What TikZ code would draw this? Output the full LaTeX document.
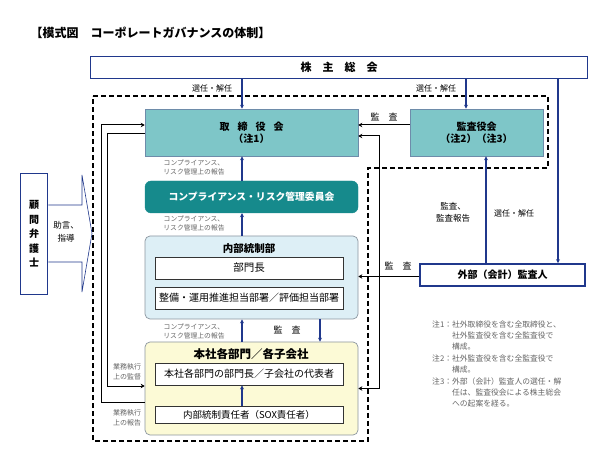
\documentclass[tikz,border=0pt]{standalone}
\usepackage{fontspec}
\setmainfont{Noto Sans CJK JP}
\usetikzlibrary{arrows.meta, positioning}
\definecolor{navy}{RGB}{32,56,140}
\definecolor{tealL}{RGB}{126,198,200}
\definecolor{tealD}{RGB}{22,138,140}
\definecolor{tealline}{RGB}{110,140,170}
\definecolor{blueL}{RGB}{221,239,246}
\definecolor{yellowL}{RGB}{252,250,214}
\definecolor{grayline}{RGB}{140,150,160}
\definecolor{graytext}{RGB}{100,100,100}
\tikzstyle{box} = [rectangle, text centered, align=center, inner sep=0pt]
\tikzstyle{bluebox} = [box, draw=navy, line width=1.6pt, fill=white]
\tikzstyle{tealbox} = [box, draw=tealline, line width=0.6pt, fill=tealL, minimum height=47pt, font=\bfseries\fontsize{10}{12}\selectfont]
\tikzstyle{group} = [box, draw=grayline, line width=0.7pt, rounded corners=5pt, minimum width=213pt]
\tikzstyle{innerbox} = [box, draw=black!80, line width=0.8pt, fill=white, minimum width=188pt]
\tikzstyle{lbl} = [font=\fontsize{8}{10}\selectfont, align=center]
\tikzstyle{smalllbl} = [font=\fontsize{6.8}{9}\selectfont, text=graytext, align=center]
\tikzstyle{arrow} = [line width=1.2pt, navy, -{Stealth[length=4pt,width=4pt]}]
\tikzstyle{bline} = [line width=1pt, black, >={Stealth[length=4pt,width=4.5pt]}]

\begin{document}
\begin{tikzpicture}[x=1pt, y=-1pt]
  \useasboundingbox (0,0) rectangle (616,462);
  % タイトル
  \node (title) [anchor=west, font=\bfseries\fontsize{12}{14}\selectfont] at (27,33) {【模式図　コーポレートガバナンスの体制】};
  % 株主総会
  \node (soukai) [bluebox, minimum width=497pt, minimum height=22pt, font=\bfseries\fontsize{11}{13}\selectfont] at (339,67.5) {株\hspace{11pt}主\hspace{11pt}総\hspace{11pt}会};
  % 監督範囲（点線）
  \draw [dashed, line width=1.3pt, dash pattern=on 5pt off 3pt] (93,96) -- (548,96) -- (548,168) -- (368,168) -- (368,441) -- (93,441) -- cycle;
  % 取締役会・監査役会
  \node (torishimari) [tealbox, minimum width=213pt] at (251.5,132.5) {取\hspace{8pt}締\hspace{8pt}役\hspace{8pt}会\\（注1）};
  \node (kansayaku) [tealbox, minimum width=133pt] at (476.5,132.5) {監査役会\\（注2）（注3）};
  % 委員会
  \node (iinkai) [box, rounded corners=6pt, fill=tealD, draw=tealD, text=white, minimum width=213pt, minimum height=32pt, font=\bfseries\fontsize{9.8}{12}\selectfont] at (251.5,197) {コンプライアンス・リスク管理委員会};
  % 内部統制部
  \node (naibu) [group, fill=blueL, minimum height=83pt] at (251.5,277.5) {};
  \node (naibutitle) [font=\bfseries\fontsize{10.5}{12}\selectfont] at (249,249) {内部統制部};
  \node (bucho) [innerbox, minimum height=22pt, font=\fontsize{10.5}{12}\selectfont] at (249,268) {部門長};
  \node (seibi) [innerbox, minimum height=22pt, font=\fontsize{10}{12}\selectfont] at (249,298) {整備・運用推進担当部署／評価担当部署};
  % 本社各部門／各子会社
  \node (honsha) [group, fill=yellowL, minimum height=93pt] at (251.5,388.5) {};
  \node (honshatitle) [font=\bfseries\fontsize{11.5}{13}\selectfont] at (251,354) {本社各部門／各子会社};
  \node (bumoncho) [innerbox, minimum height=22pt, font=\fontsize{10}{12}\selectfont] at (249,374) {本社各部門の部門長／子会社の代表者};
  \node (sox) [innerbox, minimum height=17pt, font=\fontsize{9.5}{11}\selectfont] at (249,414.5) {内部統制責任者（SOX責任者）};
  % 外部監査人
  \node (gaibu) [bluebox, minimum width=165pt, minimum height=22pt, font=\bfseries\fontsize{10}{12}\selectfont] at (502.5,275) {外部（会計）監査人};
  % 顧問弁護士
  \node (komon) [bluebox, minimum width=27pt, minimum height=121pt, font=\bfseries\fontsize{10}{14.5}\selectfont] at (34,234) {顧\\問\\弁\\護\\士};
  \draw [navy, line width=0.6pt, fill=white] (komon.east |- 0,205) -- (82,205) -- (82,175) -- (92,233.5) -- (82,292) -- (82,262) -- (komon.east |- 0,262);
  \node (jogen) [lbl, font=\fontsize{8.5}{13}\selectfont] at (66,232) {助言、\\指導};
  % 縦線の位置
  \coordinate (xa) at (242,0);
  \coordinate (xk) at (466,0);
  \coordinate (xs) at (558,0);
  \coordinate (xg) at (486,0);
  \coordinate (xm) at (320,0);
  % 青矢印
  \draw [arrow] (soukai.south -| xa) -- (torishimari.north -| xa);
  \draw [arrow] (soukai.south -| xk) -- (kansayaku.north -| xk);
  \draw [arrow] (soukai.south -| xs) -- (gaibu.north -| xs);
  \draw [arrow] (gaibu.north -| xg) -- (kansayaku.south -| xg);
  \draw [arrow] (iinkai.north -| xa) -- (torishimari.south -| xa);
  \draw [arrow] (naibu.north -| xa) -- (iinkai.south -| xa);
  \draw [arrow] (honsha.north -| xa) -- (naibu.south -| xa);
  \draw [arrow] (naibu.south -| xm) -- (honsha.north -| xm);
  \draw [arrow] (sox.north -| xa) -- (bumoncho.south -| xa);
  % 黒矢印
  \draw [bline, ->] ([yshift=7.5pt]kansayaku.west) -- ([yshift=7.5pt]torishimari.east);
  \draw [bline, <->] ([yshift=-3.5pt]torishimari.east) -- ++(21,0) |- (honsha.east);
  \draw [bline, ->] ([yshift=-1.5pt]gaibu.west) -- ([yshift=-1.5pt]gaibu.west -| naibu.east);
  \draw [bline, ->] ([yshift=-13.5pt]honsha.west) -- ++(-43,0) |- ([yshift=7.5pt]torishimari.west);
  \draw [bline, ->] ([yshift=-1.5pt]torishimari.west) -- ++(-37,0) |- ([yshift=2.5pt]honsha.west);
  % ラベル
  \node [lbl] at (212,88) {選任・解任};
  \node [lbl] at (436,88) {選任・解任};
  \node [lbl] at (514,213) {選任・解任};
  \node [lbl, font=\fontsize{8.5}{12}\selectfont] at (453,212) {監査、\\監査報告};
  \node [lbl, font=\fontsize{9}{10}\selectfont] at (384,117) {監\hspace{1em}査};
  \node [lbl, font=\fontsize{9}{10}\selectfont] at (398,266) {監\hspace{1em}査};
  \node [lbl, font=\fontsize{9}{10}\selectfont] at (287,330) {監\hspace{1em}査};
  \node [smalllbl] at (194,167.5) {コンプライアンス、\\リスク管理上の報告};
  \node [smalllbl] at (194,223.5) {コンプライアンス、\\リスク管理上の報告};
  \node [smalllbl] at (194,331.5) {コンプライアンス、\\リスク管理上の報告};
  \node [smalllbl, font=\fontsize{7}{10}\selectfont] at (127,372) {業務執行\\上の監督};
  \node [smalllbl, font=\fontsize{7}{10}\selectfont] at (127,418) {業務執行\\上の報告};
  % 注記
  \node (notes) [anchor=north west, inner sep=0pt, text=graytext, font=\fontsize{7.8}{11.4}\selectfont] at (432,319) {%
    \begin{tabular}{@{}l@{}l@{}}
    注1：& 社外取締役を含む全取締役と、\\
         & 社外監査役を含む全監査役で\\
         & 構成。\\
    注2：& 社外監査役を含む全監査役で\\
         & 構成。\\
    注3：& 外部（会計）監査人の選任・解\\
         & 任は、監査役会による株主総会\\
         & への起案を経る。
    \end{tabular}};
\end{tikzpicture}
\end{document}
